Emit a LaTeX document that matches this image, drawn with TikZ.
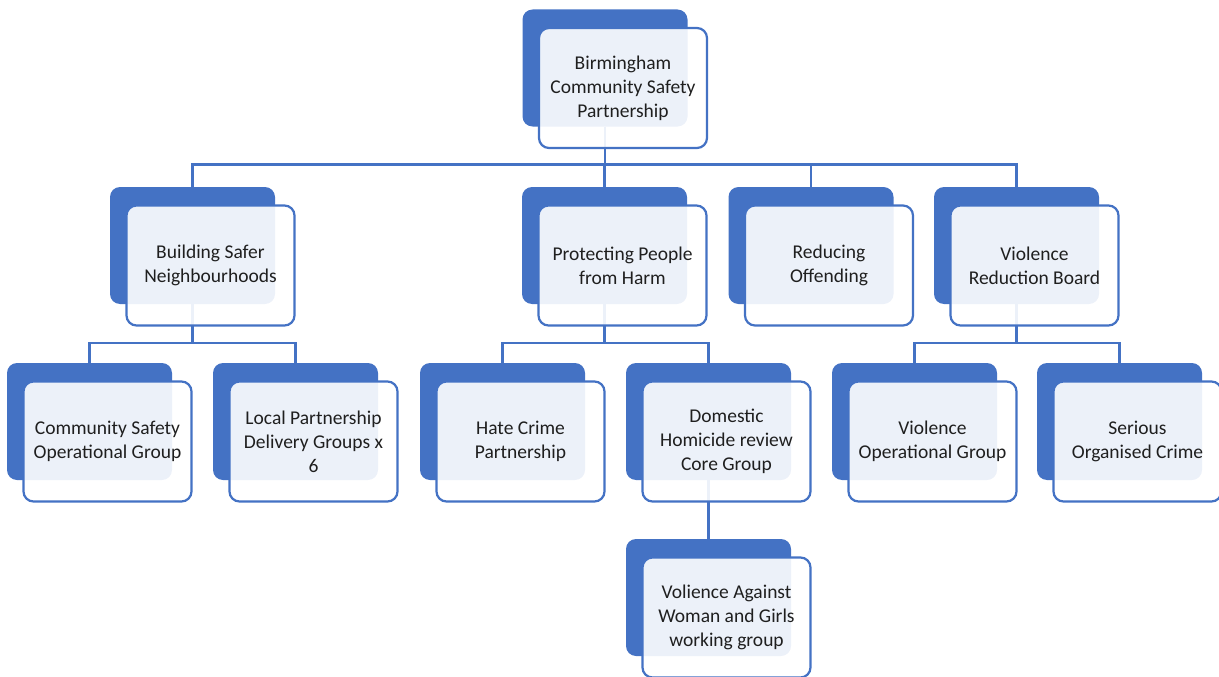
\documentclass[tikz,border=0pt]{standalone}
\usepackage{fontspec}
\setmainfont{Carlito}
\definecolor{csblue}{HTML}{4472C4}
\definecolor{cstext}{HTML}{1F1F1F}

\begin{document}
\begin{tikzpicture}[x=1pt,y=-1pt,
    every node/.style={font=\fontsize{19.5}{24}\selectfont},
    back/.style={rectangle,rounded corners=10pt,fill=csblue,
      minimum width=165pt,minimum height=117pt,inner sep=0pt},
    front/.style={rectangle,rounded corners=10pt,draw=csblue,line width=2.2pt,
      fill=white,fill opacity=0.9,text opacity=1,text=cstext,align=center,
      minimum width=168pt,minimum height=120pt,inner sep=0pt},
    link/.style={draw=csblue,line width=2.5pt}]
  \useasboundingbox (0,0) rectangle (1219,677);
  % back boxes
  \node[back] (t) at (605,68) {};
  \node[back] (a1) at (192.5,245.5) {};
  \node[back] (a2) at (604.5,245.5) {};
  \node[back] (a3) at (811,245.5) {};
  \node[back] (a4) at (1016.5,245.5) {};
  \node[back] (c1) at (89.5,421.5) {};
  \node[back] (c2) at (295.5,421.5) {};
  \node[back] (c3) at (502.5,421.5) {};
  \node[back] (c4) at (708.5,421.5) {};
  \node[back] (c5) at (914.5,421.5) {};
  \node[back] (c6) at (1119.5,421.5) {};
  \node[back] (d1) at (708.5,597.5) {};
  % connectors
  \foreach \p/\c in {t/a1,t/a2,t/a3,t/a4}
     \draw[link] (\p.south) -- ++(0,38) -| (\c.north);
  \foreach \p/\c in {a1/c1,a1/c2,a2/c3,a2/c4,a4/c5,a4/c6}
     \draw[link] (\p.south) -- ++(0,39) -| (\c.north);
  \draw[link] (c4.south) -- (d1.north);
  % front boxes
  \node[front] (ft) at ([shift={(18,20)}]t) {Birmingham\\Community Safety\\Partnership};
  \node[front] (fa1) at ([shift={(18,20)}]a1) {Building Safer\\Neighbourhoods};
  \node[front] (fa2) at ([shift={(18,20)}]a2) {Protecting People\\from Harm};
  \node[front] (fa3) at ([shift={(18,20)}]a3) {Reducing\\Offending};
  \node[front] (fa4) at ([shift={(18,20)}]a4) {Violence\\Reduction Board};
  \node[front] (fc1) at ([shift={(18,20)}]c1) {Community Safety\\Operational Group};
  \node[front] (fc2) at ([shift={(18,20)}]c2) {Local Partnership\\Delivery Groups x\\6};
  \node[front] (fc3) at ([shift={(18,20)}]c3) {Hate Crime\\Partnership};
  \node[front] (fc4) at ([shift={(18,20)}]c4) {Domestic\\Homicide review\\Core Group};
  \node[front] (fc5) at ([shift={(18,20)}]c5) {Violence\\Operational Group};
  \node[front] (fc6) at ([shift={(18,20)}]c6) {Serious\\Organised Crime};
  \node[front] (fd1) at ([shift={(18,20)}]d1) {Volience Against\\Woman and Girls\\working group};
\end{tikzpicture}
\end{document}
